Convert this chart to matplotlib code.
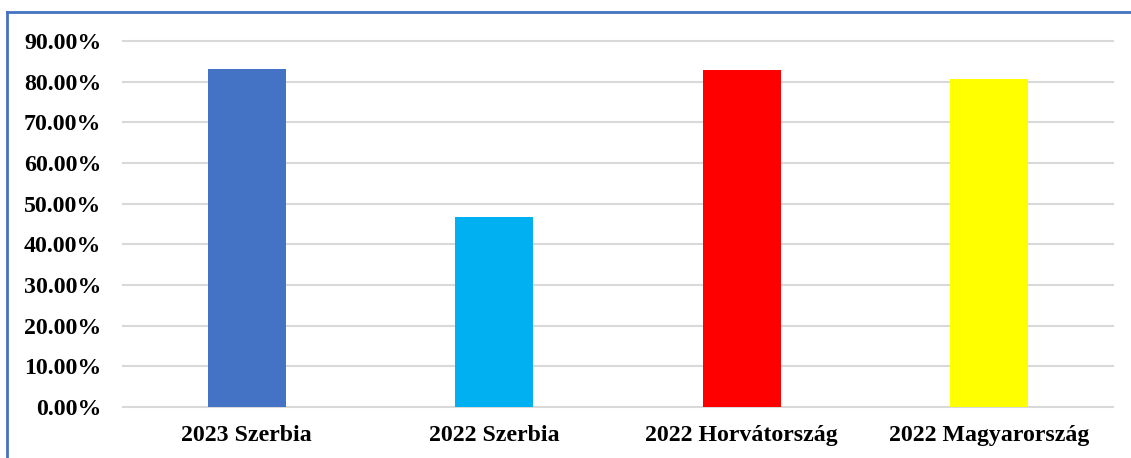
import matplotlib
matplotlib.use('Agg')
import matplotlib.pyplot as plt
from matplotlib.lines import Line2D
from matplotlib.ticker import FuncFormatter
import numpy as np

categories = ['2023 Szerbia', '2022 Szerbia', '2022 Horvátország', '2022 Magyarország']
values = [0.832, 0.468, 0.828, 0.807]
colors = ['#4472C4', '#00B0F0', '#FF0000', '#FFFF00']
yticks = [0.0, 0.1, 0.2, 0.3, 0.4, 0.5, 0.6, 0.7, 0.8, 0.9]

plt.rcParams['font.family'] = ['Liberation Serif', 'DejaVu Serif']
plt.rcParams['font.weight'] = 'bold'

W, H = 1131, 458
fig = plt.figure(figsize=(W / 100, H / 100), dpi=100)
ax = fig.add_axes([123 / W, (H - 407) / H, (1113 - 123) / W, (407 - 41) / H])

x = np.arange(len(categories))
ax.bar(x, values, width=0.315, color=colors, zorder=3)

ax.set_xlim(-0.5, len(categories) - 0.5)
ax.set_ylim(0, 0.9)
ax.set_yticks(yticks)
ax.yaxis.set_major_formatter(FuncFormatter(lambda v, p: '%.2f%%' % (v * 100)))
ax.set_xticks(x)
ax.set_xticklabels(categories)
ax.grid(axis='y', color='#d9d9d9', linewidth=1.5, zorder=0)
for g in ax.yaxis.get_gridlines():
    g.set_clip_on(False)
for s in ax.spines.values():
    s.set_visible(False)
ax.tick_params(axis='both', length=0, labelsize=17.2)
ax.tick_params(axis='y', pad=15.5)
ax.tick_params(axis='x', pad=13)
for lab in ax.get_xticklabels() + ax.get_yticklabels():
    lab.set_fontweight('bold')

# blue frame (only top and left visible in the crop)
fig.add_artist(Line2D([7 / W, 7 / W], [0, 1 - 12 / H], color='#4472C4', linewidth=2))
fig.add_artist(Line2D([7 / W, 1], [1 - 12 / H, 1 - 12 / H], color='#4472C4', linewidth=2))

fig.savefig('out.png', dpi=100)
